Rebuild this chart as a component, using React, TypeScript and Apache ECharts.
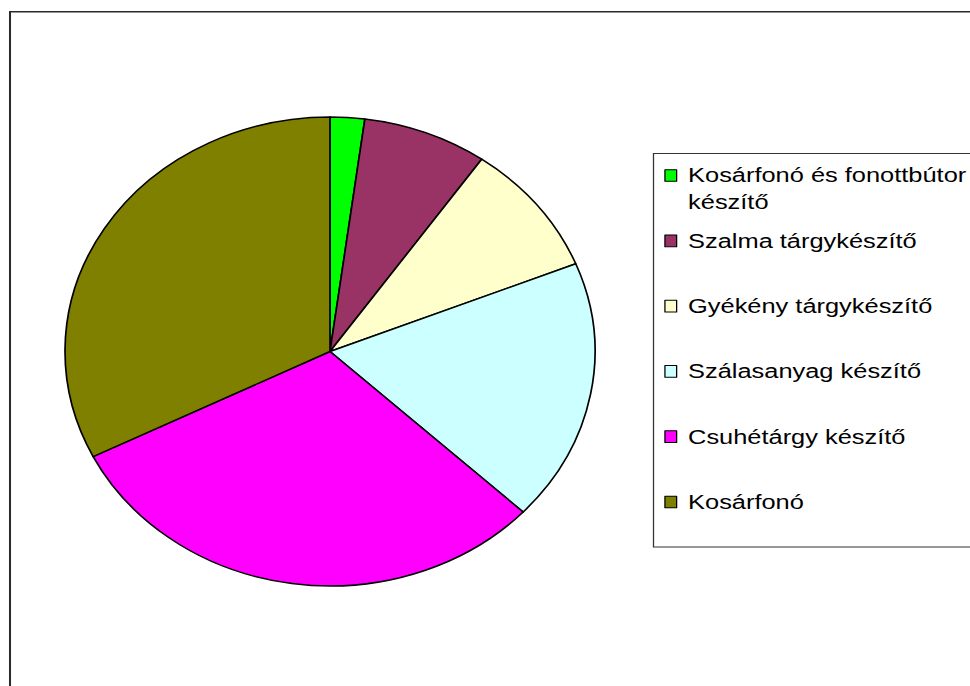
import React, { useEffect, useRef } from "react";
import * as echarts from "echarts";

// ---- data ----
const categories = [
  "Kosárfonó és fonottbútor készítő",
  "Szalma tárgykészítő",
  "Gyékény tárgykészítő",
  "Szálasanyag készítő",
  "Csuhétárgy készítő",
  "Kosárfonó",
];
const values = [2.1, 7.6, 9.2, 18.1, 30.6, 32.4];
const colors = ["#00FF00", "#993366", "#FFFFCC", "#CCFFFF", "#FF00FF", "#808000"];

// ---- layout ----
const W = 970;
const H = 686;
const PIE_CX = 330;
const PIE_CY = 351.5;
const PIE_RX = 265;
const PIE_RY = 234.5;
const SY = PIE_RY / PIE_RX; // vertical squash of the pie
const SX = 1.27; // horizontal stretch of the legend text
const OX = 653; // origin of the horizontal stretch
const pre = (x: number) => OX + (x - OX) / SX;
const FONT = "'Liberation Sans', Arial, Helvetica, sans-serif";

const isLong = (name: string) => name.length > 26;
const wrapName = (name: string) => {
  if (isLong(name)) {
    const i = name.lastIndexOf(" ");
    // leading empty line keeps the first text line level with the marker
    return "\n" + name.slice(0, i) + "\n" + name.slice(i + 1);
  }
  return name;
};

const pieData = () =>
  categories.map((name, i) => ({
    name,
    value: values[i],
    itemStyle: { color: colors[i] },
  }));

export default function App() {
  const pieRef = useRef<HTMLDivElement>(null);
  const legRef = useRef<HTMLDivElement>(null);

  useEffect(() => {
    const pieChart = echarts.init(pieRef.current!, undefined, { renderer: "svg" });
    pieChart.setOption({
      animation: false,
      backgroundColor: "#ffffff",
      series: [
        {
          type: "pie",
          center: [PIE_CX, PIE_CY],
          radius: PIE_RX,
          startAngle: 90,
          clockwise: true,
          silent: true,
          label: { show: false },
          labelLine: { show: false },
          emphasis: { disabled: true },
          itemStyle: { borderColor: "#000000", borderWidth: 1.7 },
          data: pieData(),
        },
      ],
    });

    const legChart = echarts.init(legRef.current!, undefined, { renderer: "svg" });
    const first = 175.5;
    const step = 65.3;
    const legends = categories.map((name, i) => {
      const multi = isLong(name);
      const lh = multi ? 27 : 26;
      const h = multi ? lh * 3 : lh;
      const c = first + step * i;
      return {
        data: [name],
        orient: "vertical",
        left: pre(664.3),
        top: c - h / 2,
        padding: 0,
        selectedMode: false,
        icon: "rect",
        itemWidth: 11.7 / SX,
        itemHeight: 11.7,
        itemStyle: { borderColor: "#000000", borderWidth: 1 },
        formatter: (n: string) => wrapName(n),
        textStyle: {
          fontFamily: FONT,
          fontSize: 20,
          color: "#000000",
          lineHeight: lh,
          padding: [0, 0, 0, 4],
        },
      };
    });
    legChart.setOption({
      animation: false,
      legend: legends,
      graphic: [
        {
          type: "rect",
          silent: true,
          shape: { x: pre(10), y: 11.8, width: pre(990) - pre(10), height: 720 },
          style: { fill: "none", stroke: "#2a2a2a", lineWidth: 1.6 },
        },
        {
          type: "rect",
          silent: true,
          shape: { x: pre(653.5), y: 153.5, width: pre(995) - pre(653.5), height: 393.5 },
          style: { fill: "none", stroke: "#333333", lineWidth: 1 },
        },
      ],
      series: [
        {
          type: "pie",
          center: [-500, -500],
          radius: 0,
          silent: true,
          label: { show: false },
          labelLine: { show: false },
          emphasis: { disabled: true },
          itemStyle: { borderWidth: 0 },
          data: pieData(),
        },
      ],
    });

    return () => {
      pieChart.dispose();
      legChart.dispose();
    };
  }, []);

  return (
    <div
      style={{
        position: "fixed",
        left: 0,
        top: 0,
        width: W,
        height: H,
        overflow: "hidden",
        background: "#ffffff",
      }}
    >
      <div
        ref={pieRef}
        style={{
          position: "absolute",
          left: 0,
          top: 0,
          width: W,
          height: H,
          transform: `scaleY(${SY})`,
          transformOrigin: `${PIE_CX}px ${PIE_CY}px`,
        }}
      />
      <div
        ref={legRef}
        style={{
          position: "absolute",
          left: 0,
          top: 0,
          width: W,
          height: H,
          transform: `scaleX(${SX})`,
          transformOrigin: `${OX}px 0px`,
        }}
      />
    </div>
  );
}
